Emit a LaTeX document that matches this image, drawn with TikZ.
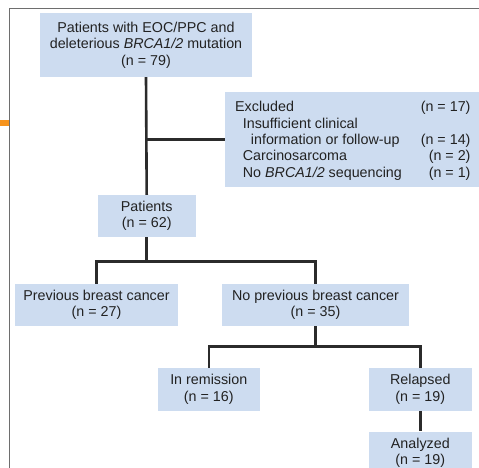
\documentclass[tikz,border=0pt]{standalone}
\usepackage{fontspec}
\setmainfont{Liberation Sans}
\definecolor{boxblue}{HTML}{CDDCF0}
\definecolor{linegray}{HTML}{2B2B2B}
\definecolor{framegray}{HTML}{6E6E6E}
\definecolor{tickorange}{HTML}{F7941D}
\definecolor{txt}{HTML}{222222}
\begin{document}
\begin{tikzpicture}[x=1pt,y=-1pt,
  box/.style={fill=boxblue, inner sep=0pt, align=center, text=txt,
    font=\fontsize{14.3}{16.4}\selectfont},
  conn/.style={draw=linegray, line width=2.6pt},
  extxt/.style={inner sep=0pt, text=txt, font=\fontsize{14.3}{16.4}\selectfont}]
\useasboundingbox (0,0) rectangle (479,467);
% frame
\draw[framegray, line width=1.6pt] (9.5,480) -- (9.5,8.5) -- (490,8.5);
\fill[tickorange] (0,120) rectangle (9,126);
% boxes
\node[box, minimum width=212pt, minimum height=64pt] (top) at (146,45)
  {Patients with EOC/PPC and\\deleterious \textit{BRCA1/2} mutation\\(n = 79)};
\node[box, minimum width=260pt, minimum height=95pt] (excl) at (355,139.5) {};
\node[box, minimum width=98pt, minimum height=42pt] (pat) at (146.7,216) {Patients\\(n = 62)};
\node[box, minimum width=163pt, minimum height=42pt] (prev) at (96.5,305) {Previous breast cancer\\(n = 27)};
\node[box, minimum width=187pt, minimum height=42pt] (noprev) at (315.5,305) {No previous breast cancer\\(n = 35)};
\node[box, minimum width=102.3pt, minimum height=42.7pt] (rem) at (208.8,389.3) {In remission\\(n = 16)};
\node[box, minimum width=102.7pt, minimum height=42.7pt] (rel) at (420.3,389.3) {Relapsed\\(n = 19)};
\node[box, minimum width=102.7pt, minimum height=42.7pt] (ana) at (420.3,453) {Analyzed\\(n = 19)};
% excluded texts
\node[extxt, anchor=base west] (e1) at (235,111.5) {Excluded};
\node[extxt, anchor=base east] (e1n) at (470.7,111.5) {(n = 17)};
\node[extxt, anchor=base west] (e2) at (242.7,128) {Insufficient clinical};
\node[extxt, anchor=base west] (e3) at (250.7,144.4) {information or follow-up};
\node[extxt, anchor=base east] (e3n) at (470.7,144.4) {(n = 14)};
\node[extxt, anchor=base west] (e4) at (242.7,160.8) {Carcinosarcoma};
\node[extxt, anchor=base east] (e4n) at (470.7,160.8) {(n = 2)};
\node[extxt, anchor=base west] (e5) at (242.7,177.2) {No \textit{BRCA1/2} sequencing};
\node[extxt, anchor=base east] (e5n) at (470.7,177.2) {(n = 1)};
% connectors
\draw[conn] (top.south) -- (pat.north);
\coordinate (j1) at (top.south |- excl.west);
\draw[conn] (j1) -- (excl.west);
\coordinate (j2) at (146.7,261.7);
\draw[conn] (pat.south) -- (j2);
\draw[conn] (prev.north) |- (j2) -| (noprev.north);
\coordinate (j3) at (315.5,346.7);
\draw[conn] (noprev.south) -- (j3);
\draw[conn] (rem.north) |- (j3) -| (rel.north);
\draw[conn] (rel.south) -- (ana.north);
\end{tikzpicture}
\end{document}
